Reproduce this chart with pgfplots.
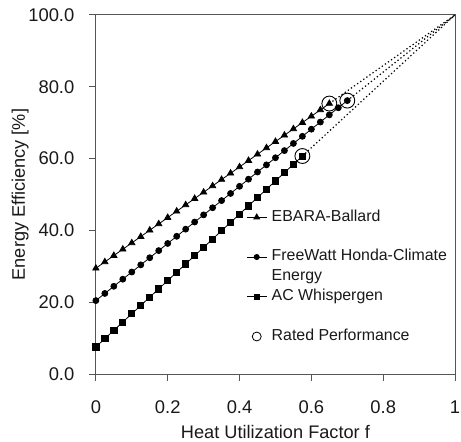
\documentclass[border=0pt]{standalone}
\usepackage{pgfplots}
\pgfplotsset{compat=1.18}
\usepackage{fontspec}
\setmainfont{Liberation Sans}
\definecolor{axisgray}{RGB}{85,85,85}
\pgfplotsset{
  legend image code/.code={\draw[mark repeat=2,mark phase=2,#1] plot coordinates {(0bp,0bp)(10bp,0bp)(20bp,0bp)};},
}
\begin{document}
\begin{tikzpicture}
\begin{axis}[
  scale only axis, width=361.5bp, height=361.7bp,
  xmin=0, xmax=1, ymin=0, ymax=100,
  xtick={0,0.2,0.4,0.6,0.8,1}, xticklabels={0,0.2,0.4,0.6,0.8,1},
  ytick={0,20,40,60,80,100}, yticklabels={0.0,20.0,40.0,60.0,80.0,100.0},
  tick pos=left, tick align=outside, major tick length=7bp,
  axis line style={axisgray, line width=0.9bp},
  tick style={axisgray, line width=0.9bp},
  ticklabel style={font=\fontsize{18.5bp}{21bp}\selectfont, text=black!90},
  xticklabel style={anchor=north, inner sep=0pt, yshift=-19.3bp},
  yticklabel style={anchor=east, inner sep=0pt, xshift=-14.5bp},
  xlabel={Heat Utilization Factor f},
  ylabel={Energy Efficiency [\%]},
  every axis x label/.style={at={(axis description cs:0.5,-0.17777)}, anchor=base,
    font=\fontsize{18.3bp}{21bp}\selectfont, text=black!90},
  every axis y label/.style={at={(axis description cs:-0.19779,0.5)}, rotate=90, anchor=base,
    font=\fontsize{18.3bp}{21bp}\selectfont, text=black!90},
  legend style={draw=none, fill=none, at={(0.4191,0.4645)}, anchor=north west,
    inner sep=0pt, outer sep=0pt, row sep=0pt, column sep=4.7bp,
    font=\fontsize{16bp}{19bp}\selectfont, text=black!90,
    nodes={inner sep=0pt, text height=14bp, text depth=6bp}},
  legend cell align=left,
]
% EBARA-Ballard
\addplot[black, line width=0.8bp, mark=triangle*, mark size=3.6bp, mark options={solid}, forget plot] coordinates {
(0,29.5)(0.025,31.26)(0.05,33.03)(0.075,34.79)(0.1,36.55)(0.125,38.31)(0.15,40.08)(0.175,41.84)
(0.2,43.6)(0.225,45.36)(0.25,47.13)(0.275,48.89)(0.3,50.65)(0.325,52.41)(0.35,54.18)(0.375,55.94)
(0.4,57.7)(0.425,59.46)(0.45,61.23)(0.475,62.99)(0.5,64.75)(0.525,66.51)(0.55,68.28)(0.575,70.04)
(0.6,71.8)(0.625,73.56)(0.65,75.33)};
% FreeWatt
\addplot[black, line width=0.8bp, mark=*, mark size=3bp, mark options={solid}, forget plot] coordinates {
(0,20.5)(0.025,22.49)(0.05,24.48)(0.075,26.46)(0.1,28.45)(0.125,30.44)(0.15,32.43)(0.175,34.41)
(0.2,36.4)(0.225,38.39)(0.25,40.38)(0.275,42.36)(0.3,44.35)(0.325,46.34)(0.35,48.33)(0.375,50.31)
(0.4,52.3)(0.425,54.29)(0.45,56.28)(0.475,58.26)(0.5,60.25)(0.525,62.24)(0.55,64.23)(0.575,66.21)
(0.6,68.2)(0.625,70.19)(0.65,72.18)(0.675,74.16)(0.7,76.15)};
% AC Whispergen
\addplot[black, line width=0.8bp, mark=square*, mark size=3.1bp, mark options={solid}, forget plot] coordinates {
(0,7.6)(0.025,9.91)(0.05,12.22)(0.075,14.53)(0.1,16.84)(0.125,19.15)(0.15,21.46)(0.175,23.77)
(0.2,26.08)(0.225,28.39)(0.25,30.7)(0.275,33.01)(0.3,35.32)(0.325,37.63)(0.35,39.94)(0.375,42.25)
(0.4,44.56)(0.425,46.87)(0.45,49.18)(0.475,51.49)(0.5,53.8)(0.525,56.11)(0.55,58.42)(0.575,60.73)};
% dotted extrapolations
\addplot[black, line width=1.2bp, dash pattern=on 1.3bp off 2.5bp, forget plot] coordinates {(0.65,75.33)(1,100)};
\addplot[black, line width=1.2bp, dash pattern=on 1.3bp off 2.5bp, forget plot] coordinates {(0.7,76.15)(1,100)};
\addplot[black, line width=1.2bp, dash pattern=on 1.3bp off 2.5bp, forget plot] coordinates {(0.575,60.73)(1,100)};
% rated performance
\addplot[black, only marks, mark=o, mark size=7.5bp, line width=0.9bp, forget plot] coordinates {(0.65,75.33)(0.7,76.15)(0.575,60.73)};
% legend
\addlegendimage{black, line width=0.8bp, mark=triangle*, mark size=3.3bp}
\addlegendentry{EBARA-Ballard}
\addlegendimage{empty legend}
\addlegendentry{}
\addlegendimage{black, line width=0.8bp, mark=*, mark size=2.6bp}
\addlegendentry{FreeWatt Honda-Climate}
\addlegendimage{empty legend}
\addlegendentry{Energy}
\addlegendimage{black, line width=0.8bp, mark=square*, mark size=2.6bp}
\addlegendentry{AC Whispergen}
\addlegendimage{empty legend}
\addlegendentry{}
\addlegendimage{black, only marks, mark=o, mark size=4.5bp, line width=0.8bp}
\addlegendentry{Rated Performance}
\end{axis}
\pgfresetboundingbox
\useasboundingbox (-96.5bp,-67.3bp) rectangle (367.5bp,376.7bp);
\end{tikzpicture}
\end{document}
